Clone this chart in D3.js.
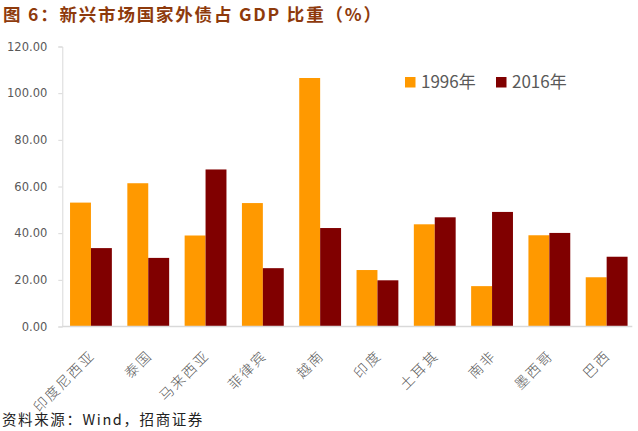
<!DOCTYPE html>
<html><head><meta charset="utf-8">
<script src="https://cdn.jsdelivr.net/npm/d3@7"></script>
<style>body{margin:0;background:#fff}svg{display:block}</style>
</head><body><svg id="c" width="638" height="431"></svg>
<script>
const categories = ["印度尼西亚","泰国","马来西亚","菲律宾","越南","印度","土耳其","南非","墨西哥","巴西"];
const series1996 = [53.1, 61.4, 39.0, 52.9, 106.5, 24.2, 43.8, 17.3, 39.1, 21.1];
const series2016 = [33.6, 29.4, 67.3, 25.0, 42.2, 19.8, 46.8, 49.1, 40.1, 29.9];
const seriesNames = ["1996年","2016年"];
const yTicks = [0,20,40,60,80,100,120];
const colors = ["#ff9900","#800000"];

const svg = d3.select("#c");
const x0 = 62.3, x1 = 635.3, yTop = 46.5, yBase = 326.5;
const x = d3.scaleBand().domain(categories).range([x0, x1]).paddingInner(0.27).paddingOuter(0.135);
const xs = d3.scaleBand().domain(seriesNames).range([0, x.bandwidth()]);
const y = d3.scaleLinear().domain([0,120]).range([yBase, yTop]);

// title
svg.append("text").attr("x",3).attr("y",21)
  .attr("font-family","'Noto Sans CJK SC', sans-serif").attr("font-weight","bold")
  .attr("font-size",17.5).attr("letter-spacing",1.8).attr("fill","#8e3a0c")
  .text("图 6：新兴市场国家外债占 GDP 比重（%）");

// y axis
const yAxis = d3.axisLeft(y).tickValues(yTicks).tickFormat(d3.format(".2f")).tickSize(4).tickPadding(11);
const ya = svg.append("g").attr("transform",`translate(${x0},0)`).call(yAxis);
ya.select(".domain").attr("stroke","#d9d9d9");
ya.selectAll(".tick line").attr("stroke","#d9d9d9");
ya.selectAll(".tick text").attr("fill","#595959").attr("font-family","'DejaVu Sans', sans-serif").attr("font-size",11.5);

// bars
const data = categories.map((c,i)=>({c, v:[series1996[i], series2016[i]]}));
const g = svg.append("g");
data.forEach(d=>{
  d.v.forEach((v,j)=>{
    g.append("rect").attr("x", x(d.c)+xs(seriesNames[j])).attr("width", xs.bandwidth())
      .attr("y", y(v)).attr("height", yBase - y(v)).attr("fill", colors[j]);
  });
});

// x axis
const xAxis = d3.axisBottom(x).tickSize(0).tickPadding(0);
const xa = svg.append("g").attr("transform",`translate(0,${yBase})`).call(xAxis);
xa.select(".domain").attr("stroke","#d9d9d9").attr("stroke-width",1.5).attr("d",`M${x0},0H${x1-3}`);
xa.selectAll(".tick text").attr("fill","#595959")
  .attr("font-family","'Noto Sans CJK SC', sans-serif").attr("font-size",14).attr("font-weight",300)
  .attr("letter-spacing",2)
  .attr("text-anchor","end").attr("dy",0)
  .attr("transform","translate(5,30) rotate(-45)");

// legend
const leg = svg.append("g");
[[405,"1996年"],[496,"2016年"]].forEach(([lx,t],j)=>{
  leg.append("rect").attr("x",lx).attr("y",77).attr("width",10.5).attr("height",10.5).attr("fill",colors[j]);
  leg.append("text").attr("x",lx+16).attr("y",88).attr("fill","#595959")
    .attr("font-family","'Noto Sans CJK SC', sans-serif").attr("font-size",17).text(t);
});

// source
svg.append("text").attr("x",2).attr("y",425).attr("fill","#222")
  .attr("font-family","'Noto Sans CJK SC', sans-serif").attr("font-size",14.5).attr("letter-spacing",1.6)
  .text("资料来源：Wind，招商证券");
</script></body></html>
